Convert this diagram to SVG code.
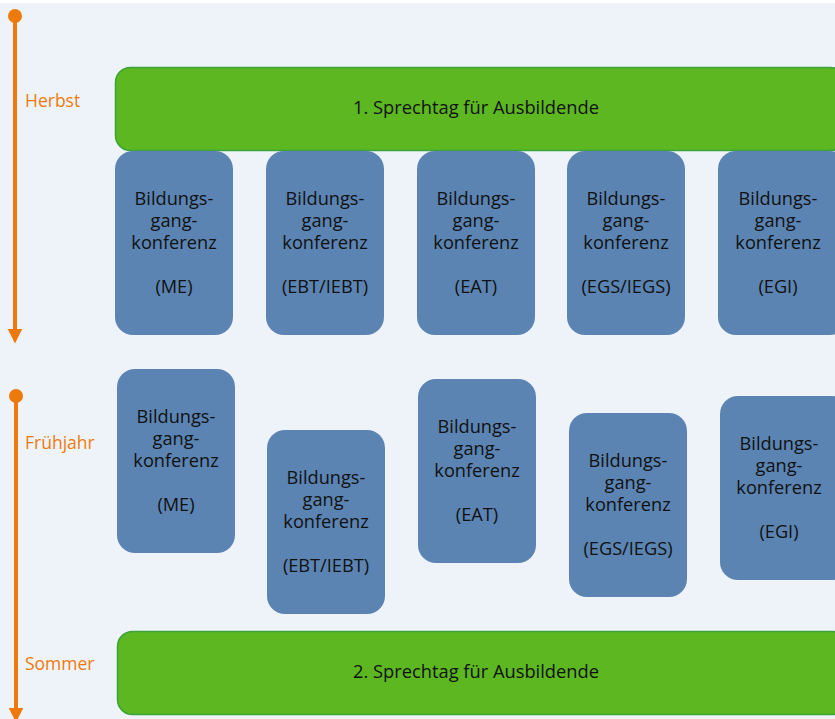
<svg xmlns="http://www.w3.org/2000/svg" width="835" height="719" viewBox="0 0 835 719">
<style>
.bg{fill:#EEF3FA}
.tl{stroke:#EE7A0B;stroke-width:4;fill:none}
.dot{fill:#EE7A0B}
.season{font-family:"Open Sans","Liberation Sans",sans-serif;font-size:17.5px;fill:#EE7A0B}
.green{fill:#5DB720;stroke:#3CA23A;stroke-width:1.5}
.gt{font-family:"Open Sans","Liberation Sans",sans-serif;font-size:18.3px;fill:#111;text-anchor:middle}
.blue{fill:#5B84B2}
.bt{font-family:"Open Sans","Liberation Sans",sans-serif;font-size:18.2px;fill:#111;text-anchor:middle}
</style>
<defs>
<marker id="ah" viewBox="0 0 10 10" refX="2" refY="5" markerWidth="3.6" markerHeight="3.6" markerUnits="strokeWidth" orient="auto">
<path d="M0,0 L10,5 L0,10 z" fill="#EE7A0B"/>
</marker>
</defs>
<rect x="0" y="0" width="835" height="719" fill="#ffffff"/>
<rect class="bg" x="0" y="3" width="835" height="716"/>
<g id="connectors">
<line class="tl" x1="15" y1="16" x2="15" y2="332" marker-end="url(#ah)"/>
<circle class="dot" cx="15" cy="16" r="7"/>
<line class="tl" x1="16" y1="396" x2="16" y2="711" marker-end="url(#ah)"/>
<circle class="dot" cx="16" cy="396" r="7"/>
</g>
<g id="labels">
<text class="season" x="25" y="107">Herbst</text>
<text class="season" x="25" y="449">Frühjahr</text>
<text class="season" x="25" y="670">Sommer</text>
</g>
<g id="sprechtag1">
<rect class="green" x="115.5" y="67.5" width="730" height="83" rx="15"/>
<text class="gt" x="476" y="114">1. Sprechtag für Ausbildende</text>
</g>
<g id="sprechtag2">
<rect class="green" x="117.5" y="631.5" width="730" height="83" rx="15"/>
<text class="gt" x="476" y="678">2. Sprechtag für Ausbildende</text>
</g>
<g id="h-me">
<rect class="blue" x="115" y="151" width="118" height="184" rx="18"/>
<text class="bt"><tspan x="174" y="205">Bildungs-</tspan><tspan x="174" y="227">gang-</tspan><tspan x="174" y="249">konferenz</tspan><tspan x="174" y="293">(ME)</tspan></text>
</g>
<g id="h-ebt">
<rect class="blue" x="266" y="151" width="118" height="184" rx="18"/>
<text class="bt"><tspan x="325" y="205">Bildungs-</tspan><tspan x="325" y="227">gang-</tspan><tspan x="325" y="249">konferenz</tspan><tspan x="325" y="293">(EBT/IEBT)</tspan></text>
</g>
<g id="h-eat">
<rect class="blue" x="417" y="151" width="118" height="184" rx="18"/>
<text class="bt"><tspan x="476" y="205">Bildungs-</tspan><tspan x="476" y="227">gang-</tspan><tspan x="476" y="249">konferenz</tspan><tspan x="476" y="293">(EAT)</tspan></text>
</g>
<g id="h-egs">
<rect class="blue" x="567" y="151" width="118" height="184" rx="18"/>
<text class="bt"><tspan x="626" y="205">Bildungs-</tspan><tspan x="626" y="227">gang-</tspan><tspan x="626" y="249">konferenz</tspan><tspan x="626" y="293">(EGS/IEGS)</tspan></text>
</g>
<g id="h-egi">
<rect class="blue" x="718" y="151" width="130" height="184" rx="18"/>
<text class="bt"><tspan x="778" y="205">Bildungs-</tspan><tspan x="778" y="227">gang-</tspan><tspan x="778" y="249">konferenz</tspan><tspan x="778" y="293">(EGI)</tspan></text>
</g>
<g id="f-me">
<rect class="blue" x="117" y="369" width="118" height="184" rx="18"/>
<text class="bt"><tspan x="176" y="423">Bildungs-</tspan><tspan x="176" y="445">gang-</tspan><tspan x="176" y="467">konferenz</tspan><tspan x="176" y="511">(ME)</tspan></text>
</g>
<g id="f-ebt">
<rect class="blue" x="267" y="430" width="118" height="184" rx="18"/>
<text class="bt"><tspan x="326" y="484">Bildungs-</tspan><tspan x="326" y="506">gang-</tspan><tspan x="326" y="528">konferenz</tspan><tspan x="326" y="572">(EBT/IEBT)</tspan></text>
</g>
<g id="f-eat">
<rect class="blue" x="418" y="379" width="118" height="184" rx="18"/>
<text class="bt"><tspan x="477" y="433">Bildungs-</tspan><tspan x="477" y="455">gang-</tspan><tspan x="477" y="477">konferenz</tspan><tspan x="477" y="521">(EAT)</tspan></text>
</g>
<g id="f-egs">
<rect class="blue" x="569" y="413" width="118" height="184" rx="18"/>
<text class="bt"><tspan x="628" y="467">Bildungs-</tspan><tspan x="628" y="489">gang-</tspan><tspan x="628" y="511">konferenz</tspan><tspan x="628" y="555">(EGS/IEGS)</tspan></text>
</g>
<g id="f-egi">
<rect class="blue" x="720" y="396" width="130" height="184" rx="18"/>
<text class="bt"><tspan x="779" y="450">Bildungs-</tspan><tspan x="779" y="472">gang-</tspan><tspan x="779" y="494">konferenz</tspan><tspan x="779" y="538">(EGI)</tspan></text>
</g>
</svg>
